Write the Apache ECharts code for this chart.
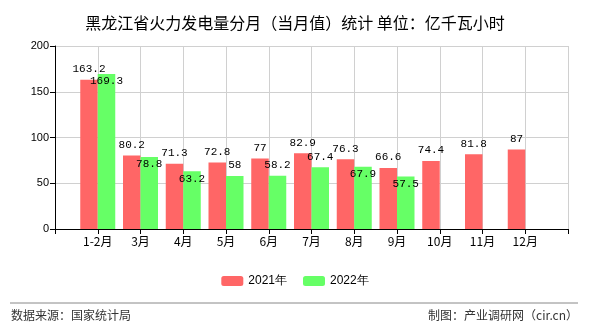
<!DOCTYPE html>
<html>
<head>
<meta charset="utf-8">
<script src="https://cdn.jsdelivr.net/npm/echarts@6/dist/echarts.min.js"></script>
<style>html,body{margin:0;padding:0;background:#fff;}#c{width:590px;height:330px;}</style>
</head>
<body>
<div id="c"></div>
<script>
const categories = ['1-2月','3月','4月','5月','6月','7月','8月','9月','10月','11月','12月'];
const values2021 = [163.2, 80.2, 71.3, 72.8, 77, 82.9, 76.3, 66.6, 74.4, 81.8, 87];
const values2022 = [169.3, 78.8, 63.2, 58, 58.2, 67.4, 67.9, 57.5, null, null, null];
const seriesNames = ['2021年', '2022年'];
const yTicks = [0, 50, 100, 150, 200];
// which 2022 labels sit just inside the bar top (style only)
const labelInside2022 = [true, true, true, false, false, false, true, true, false, false, false];

const axisCats = [''].concat(categories, ['']);
const pad = arr => [null].concat(arr, [null]);
const data2022 = pad(values2022.map((v, i) => v == null ? null : (labelInside2022[i]
  ? { value: v, label: { position: 'insideTop', distance: 2 } }
  : { value: v })));

const labelFont = { fontFamily: 'Liberation Mono', fontSize: 11, color: '#000' };
const chart = echarts.init(document.getElementById('c'), null, { renderer: 'canvas' });
chart.setOption({
  animation: false,
  backgroundColor: '#fff',
  title: {
    text: '黑龙江省火力发电量分月（当月值）统计 单位：亿千瓦小时',
    left: 'center', top: 10,
    textStyle: { fontFamily: 'Noto Sans CJK SC', fontSize: 16, fontWeight: 'normal', color: '#000' }
  },
  legend: {
    data: seriesNames, top: 270, left: 'center',
    itemWidth: 22, itemHeight: 10, itemGap: 16,
    textStyle: { fontFamily: 'Liberation Sans', fontSize: 12, color: '#000' }
  },
  grid: { left: 55, right: 22, top: 46, bottom: 101, containLabel: false },
  xAxis: {
    type: 'category', data: axisCats, boundaryGap: false,
    axisLine: { lineStyle: { color: '#000' } },
    axisTick: { show: true, length: 5, lineStyle: { color: '#000' } },
    axisLabel: { fontFamily: 'Noto Sans CJK SC', fontSize: 12, color: '#000', margin: 6, interval: 0 },
    splitLine: { show: true, lineStyle: { color: '#d0d0d0' } }
  },
  yAxis: {
    type: 'value', min: yTicks[0], max: yTicks[yTicks.length - 1], interval: 50,
    axisLine: { show: true, lineStyle: { color: '#000' } },
    axisTick: { show: true, length: 5, lineStyle: { color: '#000' } },
    axisLabel: { fontFamily: 'Liberation Sans', fontSize: 11, color: '#000', margin: 6 },
    splitLine: { show: true, lineStyle: { color: '#d0d0d0' } }
  },
  series: [
    {
      name: seriesNames[0], type: 'bar', data: pad(values2021),
      barWidth: 17.5, barGap: '0%',
      itemStyle: { color: '#ff6666' },
      label: Object.assign({ show: true, position: 'top', distance: 5 }, labelFont)
    },
    {
      name: seriesNames[1], type: 'bar', data: data2022,
      barWidth: 17.5, barGap: '0%',
      itemStyle: { color: '#66ff66' },
      label: Object.assign({ show: true, position: 'top', distance: 5 }, labelFont)
    }
  ],
  graphic: [
    { type: 'line', shape: { x1: 10, y1: 303, x2: 578, y2: 303 }, style: { stroke: '#888', lineWidth: 1 } },
    { type: 'text', left: 11, top: 309, style: { text: '数据来源：国家统计局', font: '12px "Noto Sans CJK SC"', fill: '#333' } },
    { type: 'text', right: 12, top: 309, style: { text: '制图：产业调研网（cir.cn）', font: '12px "Noto Sans CJK SC"', fill: '#333' } }
  ]
});
</script>
</body>
</html>
